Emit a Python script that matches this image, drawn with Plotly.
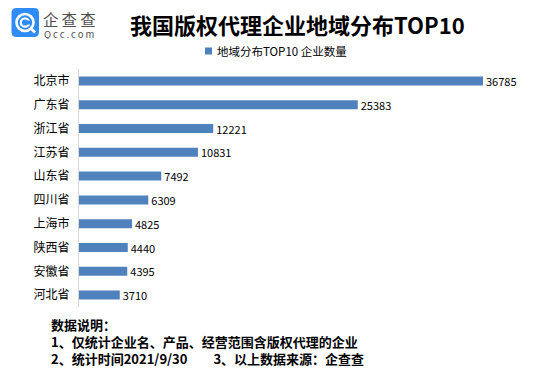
import plotly.graph_objects as go

categories = ["北京市", "广东省", "浙江省", "江苏省", "山东省", "四川省", "上海市", "陕西省", "安徽省", "河北省"]
values = [36785, 25383, 12221, 10831, 7492, 6309, 4825, 4440, 4395, 3710]
title_text = "我国版权代理企业地域分布TOP10"
legend_text = "地域分布TOP10 企业数量"
notes = ["数据说明：", "1、仅统计企业名、产品、经营范围含版权代理的企业",
         "2、统计时间2021/9/30\u3000\u30003、以上数据来源：企查查"]

OFF = 8  # page body margin
W, H = 549 - OFF, 378 - OFF
L, R, T, B = 79 - OFF, 10, 69 - OFF, 71
PW, PH = W - L - R, H - T - B
FONT = "Noto Sans CJK SC"
BAR = "#4F81BD"


def px(x):
    # x in reference-window pixels
    return (x - OFF - L) / PW


def py(y):
    return (H - B - (y - OFF)) / PH


fig = go.Figure()
fig.add_trace(go.Bar(
    y=categories, x=values, orientation="h",
    marker=dict(color=BAR, line=dict(width=0)),
    text=[str(v) for v in values], textposition="outside",
    textfont=dict(family=FONT, size=11, color="#000000"),
    constraintext="none",
    cliponaxis=False, showlegend=False, hoverinfo="x+y",
))

shapes = []
annotations = []

# logo
x0, x1, y0, y1, r = 11.5, 39, 8, 37, 5
path = (f"M{px(x0 + r)},{py(y0)} L{px(x1 - r)},{py(y0)} Q{px(x1)},{py(y0)} {px(x1)},{py(y0 + r)} "
        f"L{px(x1)},{py(y1 - r)} Q{px(x1)},{py(y1)} {px(x1 - r)},{py(y1)} "
        f"L{px(x0 + r)},{py(y1)} Q{px(x0)},{py(y1)} {px(x0)},{py(y1 - r)} "
        f"L{px(x0)},{py(y0 + r)} Q{px(x0)},{py(y0)} {px(x0 + r)},{py(y0)} Z")
shapes.append(dict(type="path", xref="paper", yref="paper", path=path,
                   fillcolor="#2F8CF4", line=dict(width=0), layer="above"))
cx, cy = 25, 22.5
shapes.append(dict(type="circle", xref="paper", yref="paper",
                   x0=px(cx - 8.5), x1=px(cx + 8.5), y0=py(cy + 8.5), y1=py(cy - 8.5),
                   line=dict(color="white", width=2.6), layer="above"))
shapes.append(dict(type="circle", xref="paper", yref="paper",
                   x0=px(cx - 4.2), x1=px(cx + 4.2), y0=py(cy + 4.2), y1=py(cy - 4.2),
                   line=dict(color="white", width=2.2), layer="above"))
shapes.append(dict(type="rect", xref="paper", yref="paper",
                   x0=px(cx + 1.5), x1=px(cx + 6), y0=py(cy + 2), y1=py(cy - 2),
                   fillcolor="#2F8CF4", line=dict(width=0), layer="above"))
shapes.append(dict(type="line", xref="paper", yref="paper",
                   x0=px(cx + 5), x1=px(cx + 10), y0=py(cy + 5), y1=py(cy + 10),
                   line=dict(color="white", width=2.6), layer="above"))
annotations.append(dict(text="企\u2009查\u2009查", x=px(42), y=py(18), xref="paper", yref="paper",
                        xanchor="left", yanchor="middle", showarrow=False,
                        height=17, borderpad=0,
                        font=dict(family=FONT, size=15.5, color="#505050")))
annotations.append(dict(text="\u2009".join("Qcc.com"), x=px(43), y=py(34), xref="paper", yref="paper",
                        xanchor="left", yanchor="middle", showarrow=False,
                        height=10, borderpad=0,
                        font=dict(family=FONT, size=9.5, color="#505050")))

# title
annotations.append(dict(text=f"<b>{title_text}</b>", x=px(297), y=py(23.5), xref="paper", yref="paper",
                        xanchor="center", yanchor="middle", showarrow=False,
                        font=dict(family=FONT, size=22, color="#000000")))

# legend
shapes.append(dict(type="rect", xref="paper", yref="paper",
                   x0=px(205), x1=px(212), y0=py(47.5), y1=py(54.5),
                   fillcolor=BAR, line=dict(width=0)))
annotations.append(dict(text=legend_text, x=px(215), y=py(51), xref="paper", yref="paper",
                        xanchor="left", yanchor="middle", showarrow=False,
                        font=dict(family=FONT, size=11.5, color="#000000")))

# notes (one block, three lines)
annotations.append(dict(text="<br>".join(f"<b>{t}</b>" for t in notes),
                        x=px(49), y=py(341), xref="paper", yref="paper",
                        xanchor="left", yanchor="middle", align="left", showarrow=False,
                        font=dict(family=FONT, size=13, color="#000000")))

fig.update_layout(
    width=W, height=H,
    margin=dict(l=L, r=R, t=T, b=B, pad=0),
    paper_bgcolor="white", plot_bgcolor="white",
    bargap=0.62,
    shapes=shapes, annotations=annotations,
    xaxis=dict(range=[0, 41884], visible=False, fixedrange=True),
    yaxis=dict(autorange="reversed", showline=True, linecolor="#D9D9D9", linewidth=1,
               showgrid=False, zeroline=False, ticks="", ticklabelstandoff=6,
               tickfont=dict(family=FONT, size=12, color="#000000"), fixedrange=True),
    font=dict(family=FONT),
    showlegend=False,
)

fig.write_html("out.html")
